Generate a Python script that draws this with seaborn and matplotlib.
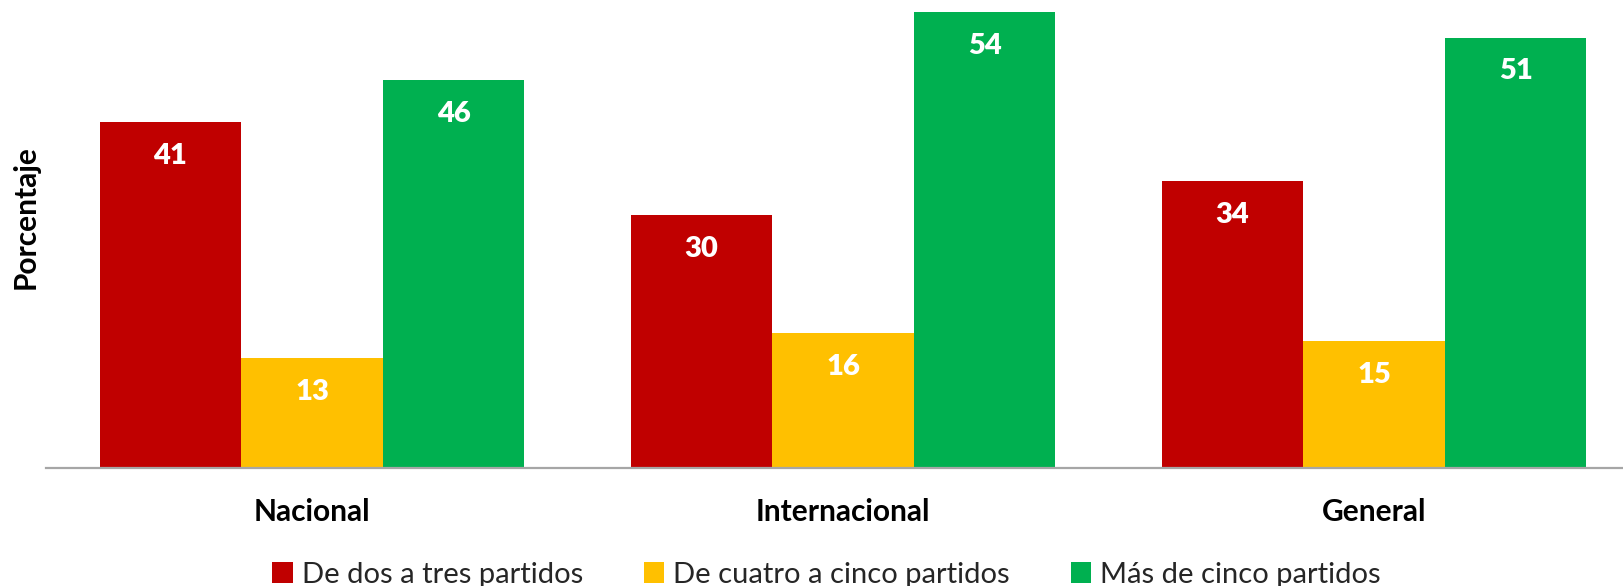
import matplotlib
matplotlib.use("Agg")
import matplotlib.pyplot as plt
import seaborn as sns
import pandas as pd

# Data
categorias = ["Nacional", "Internacional", "General"]
grupos = ["De dos a tres partidos", "De cuatro a cinco partidos", "Más de cinco partidos"]
dos_a_tres = [41, 30, 34]
cuatro_a_cinco = [13, 16, 15]
mas_de_cinco = [46, 54, 51]
colores = ["#C00000", "#FFC000", "#00B050"]

series = [dos_a_tres, cuatro_a_cinco, mas_de_cinco]
df = pd.DataFrame(
    [(c, g, v) for g, vals in zip(grupos, series) for c, v in zip(categorias, vals)],
    columns=["categoria", "grupo", "valor"],
)

sns.set_theme(style="white")
plt.rcParams["font.family"] = ["Lato", "DejaVu Sans"]

fig = plt.figure(figsize=(16.24, 5.86), dpi=100)
ax = fig.add_axes([0.0286, 0.2014, 0.981, 0.7986])

sns.barplot(
    data=df, x="categoria", y="valor", hue="grupo",
    order=categorias, hue_order=grupos, palette=colores,
    width=0.8, saturation=1, errorbar=None, ax=ax, linewidth=0,
)

ax.set_ylim(0, 55.45)
ax.set_xlim(-0.5, 2.5)

# Value labels inside each bar, near the top
n = len(grupos)
for gi, (g, vals) in enumerate(zip(grupos, series)):
    for ci, v in enumerate(vals):
        x = ci - 0.4 + 0.8 / n * (gi + 0.5)
        ax.text(x, v - 4.0, f"{v}", ha="center", va="center",
                color="white", fontsize=21, fontweight="heavy")

for side in ["top", "left", "right"]:
    ax.spines[side].set_visible(False)
ax.spines["bottom"].set_color("#A6A6A6")
ax.spines["bottom"].set_linewidth(1.6)

ax.set_yticks([])
ax.set_xlabel("")
ax.tick_params(axis="x", length=0, pad=21.5)
for lbl in ax.get_xticklabels():
    lbl.set_fontweight("bold")
    lbl.set_fontsize(21.5)
    lbl.set_color("black")

ax.set_ylabel("Porcentaje", fontsize=21.5, fontweight="bold", color="black")
ax.yaxis.label.set_va("center")
ax.yaxis.set_label_coords(-0.0129, 0.536)

handles, labels = ax.get_legend_handles_labels()
ax.get_legend().remove()
fig.legend(handles, labels, loc="center", bbox_to_anchor=(0.509, 0.019),
           ncol=3, frameon=False, fontsize=21, handlelength=0.7,
           handleheight=0.7, handletextpad=0.3, columnspacing=2.1,
           borderaxespad=0)

fig.savefig("out.png", dpi=100)
